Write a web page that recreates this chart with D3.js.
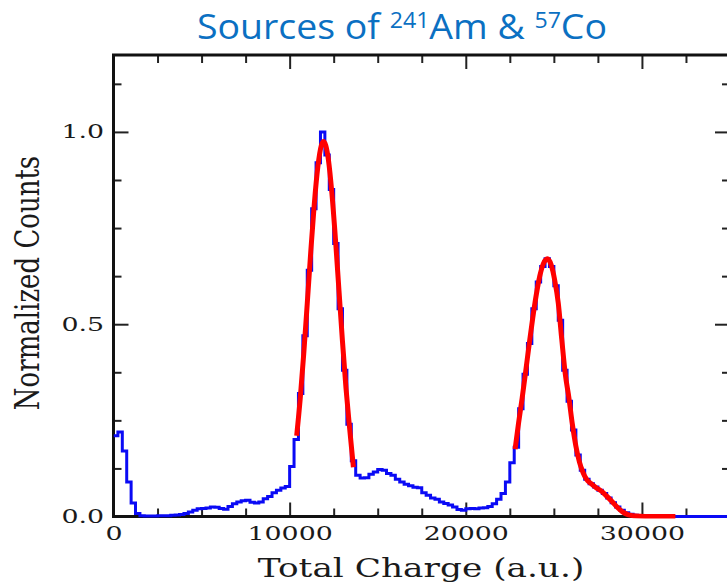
<!DOCTYPE html>
<html>
<head>
<meta charset="utf-8">
<script src="https://cdnjs.cloudflare.com/ajax/libs/d3/7.8.5/d3.min.js"></script>
<style>
body { margin: 0; background: #fff; }
svg { display: block; }
</style>
</head>
<body>
<div id="chart"></div>
<script>
// histogram of total charge, bins of 250 a.u. starting at 0
var binWidth = 250;
var counts = [
  0.21, 0.22, 0.17, 0.09, 0.035, 0.008, 0.002, 0.001,
  0.001, 0.001, 0.002, 0.002, 0.002, 0.003, 0.004, 0.005,
  0.008, 0.012, 0.016, 0.020, 0.021, 0.022, 0.025, 0.024,
  0.021, 0.019, 0.026, 0.033, 0.038, 0.041, 0.042, 0.037,
  0.035, 0.038, 0.046, 0.052, 0.062, 0.068, 0.074, 0.078,
  0.13, 0.20, 0.32, 0.47, 0.64, 0.80, 0.92, 1.0,
  0.94, 0.85, 0.71, 0.54, 0.38, 0.24, 0.145, 0.107,
  0.100, 0.101, 0.110, 0.116, 0.122, 0.120, 0.112, 0.107,
  0.097, 0.090, 0.084, 0.080, 0.076, 0.075, 0.062, 0.055,
  0.048, 0.045, 0.038, 0.034, 0.030, 0.025, 0.018, 0.016,
  0.020, 0.021, 0.020, 0.022, 0.023, 0.026, 0.033, 0.045,
  0.06, 0.09, 0.14, 0.18, 0.28, 0.37, 0.45, 0.54,
  0.61, 0.65, 0.67, 0.65, 0.60, 0.51, 0.38, 0.30,
  0.225, 0.16, 0.12, 0.097, 0.085, 0.077, 0.068, 0.060,
  0.048, 0.036, 0.025, 0.016, 0.010, 0.006, 0.003, 0.001,
  0, 0, 0, 0, 0, 0, 0, 0, 0, 0,
  0, 0, 0, 0, 0, 0, 0, 0, 0, 0
];

// fit on the 241Am peak
var fitAmX = [10400, 10600, 10800, 11000, 11200, 11400, 11600, 11800, 11925,
              12050, 12200, 12400, 12600, 12800, 13000, 13200, 13400, 13620];
var fitAmY = [0.21, 0.306, 0.423, 0.554, 0.689, 0.813, 0.909, 0.965, 0.975,
              0.965, 0.928, 0.84, 0.722, 0.588, 0.455, 0.333, 0.232, 0.128];

// fit on the 57Co peak
var fitCoX = [22800, 23000, 23200, 23400, 23600, 23800, 24000, 24200, 24400, 24630,
              24850, 25050, 25250, 25450, 25650, 25850, 26050, 26250, 26450, 26650,
              26850, 27100, 27400, 27700, 28000, 28300, 28600, 28900, 29200, 29500,
              29900, 30500, 31200, 31900];
var fitCoY = [0.175, 0.244, 0.308, 0.377, 0.448, 0.516, 0.576, 0.625, 0.657, 0.67,
              0.654, 0.614, 0.555, 0.46, 0.37, 0.31, 0.24, 0.183, 0.142, 0.115,
              0.097, 0.086, 0.075, 0.066, 0.053, 0.039, 0.024, 0.012, 0.005, 0.002,
              0.0005, 0, 0, 0];

var xMajorTicks = [0, 10000, 20000, 30000];
var xMinorTicks = [2500, 5000, 7500, 12500, 15000, 17500, 22500, 25000, 27500, 32500];
var yMajorTicks = [0, 0.5, 1.0];
var yMinorTicks = [0.125, 0.25, 0.375, 0.625, 0.75, 0.875, 1.125];

function init() {

  var width = 727;
  var height = 584;
  var left = 113.5, right = 730, top = 55, bottom = 516.5;

  var svg = d3.select("#chart")
    .append("svg")
    .attr("width", width)
    .attr("height", height);

  var xScale = d3.scaleLinear().domain([0, 35000]).range([left, right]);
  var yScale = d3.scaleLinear().domain([0, 1.2]).range([bottom, top]);

  // title
  var title = svg.append("text")
    .attr("x", 197)
    .attr("y", 38.5)
    .attr("textLength", 410)
    .attr("lengthAdjust", "spacingAndGlyphs")
    .attr("font-family", "'Open Sans', sans-serif")
    .attr("font-size", "34px")
    .attr("fill", "#0B70C2");
  title.append("tspan").text("Sources of ");
  title.append("tspan").attr("font-size", "21px").attr("dy", -11).text("241");
  title.append("tspan").attr("dy", 11).text("Am & ");
  title.append("tspan").attr("font-size", "21px").attr("dy", -11).text("57");
  title.append("tspan").attr("dy", 11).text("Co");

  function styleAxis(g, hasLabels) {
    g.select(".domain").remove();
    g.selectAll(".tick line")
      .attr("stroke", "#222")
      .attr("stroke-width", 2);
    if (hasLabels) {
      g.selectAll(".tick text")
        .attr("font-family", "'DejaVu Serif', serif")
        .attr("font-size", "18.5px")
        .attr("fill", "#1a1a1a")
        .attr("transform", "scale(1.45,1)");
    } else {
      g.selectAll(".tick text").remove();
    }
  }

  // bottom
  svg.append("g")
    .attr("transform", "translate(0," + bottom + ")")
    .call(d3.axisBottom(xScale).tickValues(xMajorTicks).tickSize(-14).tickPadding(10)
      .tickFormat(d3.format("d")))
    .call(styleAxis, true);
  svg.append("g")
    .attr("transform", "translate(0," + bottom + ")")
    .call(d3.axisBottom(xScale).tickValues(xMinorTicks).tickSize(-8))
    .call(styleAxis, false);

  // top
  svg.append("g")
    .attr("transform", "translate(0," + top + ")")
    .call(d3.axisTop(xScale).tickValues(xMajorTicks).tickSize(-14))
    .call(styleAxis, false);
  svg.append("g")
    .attr("transform", "translate(0," + top + ")")
    .call(d3.axisTop(xScale).tickValues(xMinorTicks).tickSize(-8))
    .call(styleAxis, false);

  // left
  svg.append("g")
    .attr("transform", "translate(" + left + ",0)")
    .call(d3.axisLeft(yScale).tickValues(yMajorTicks).tickSize(-15).tickPadding(6.5)
      .tickFormat(d3.format(".1f")))
    .call(styleAxis, true);
  svg.append("g")
    .attr("transform", "translate(" + left + ",0)")
    .call(d3.axisLeft(yScale).tickValues(yMinorTicks).tickSize(-8))
    .call(styleAxis, false);

  // right
  svg.append("g")
    .attr("transform", "translate(" + right + ",0)")
    .call(d3.axisRight(yScale).tickValues(yMajorTicks).tickSize(-15))
    .call(styleAxis, false);
  svg.append("g")
    .attr("transform", "translate(" + right + ",0)")
    .call(d3.axisRight(yScale).tickValues(yMinorTicks).tickSize(-8))
    .call(styleAxis, false);

  // frame
  svg.append("rect")
    .attr("x", left)
    .attr("y", top)
    .attr("width", right - left)
    .attr("height", bottom - top)
    .attr("fill", "none")
    .attr("stroke", "#111")
    .attr("stroke-width", 3);

  // axis titles
  svg.append("text")
    .attr("transform", "translate(421,577) scale(1.32,1)")
    .attr("text-anchor", "middle")
    .attr("font-family", "'DejaVu Serif', serif")
    .attr("font-size", "26px")
    .attr("fill", "#1a1a1a")
    .text("Total Charge (a.u.)");

  svg.append("text")
    .attr("transform", "translate(39,283) scale(1.32,1) rotate(-90)")
    .attr("text-anchor", "middle")
    .attr("font-family", "'DejaVu Serif', serif")
    .attr("font-size", "26px")
    .attr("fill", "#1a1a1a")
    .text("Normalized Counts");

  // data
  svg.append("clipPath")
    .attr("id", "plotclip")
    .append("rect")
    .attr("x", left)
    .attr("y", top)
    .attr("width", right - left)
    .attr("height", bottom - top + 2);

  var histPoints = counts.map(function(v, i) { return [i * binWidth, v]; });
  histPoints.push([counts.length * binWidth, counts[counts.length - 1]]);

  var stepLine = d3.line()
    .x(function(d) { return xScale(d[0]); })
    .y(function(d) { return yScale(d[1]); })
    .curve(d3.curveStepAfter);

  svg.append("path")
    .datum(histPoints)
    .attr("clip-path", "url(#plotclip)")
    .attr("d", stepLine)
    .attr("fill", "none")
    .attr("stroke", "#0A0AF5")
    .attr("stroke-width", 3);

  var fitLine = d3.line()
    .x(function(d) { return xScale(d[0]); })
    .y(function(d) { return yScale(d[1]); })
    .curve(d3.curveMonotoneX);

  [[fitAmX, fitAmY], [fitCoX, fitCoY]].forEach(function(f) {
    var pts = f[0].map(function(x, i) { return [x, f[1][i]]; });
    svg.append("path")
      .datum(pts)
      .attr("clip-path", "url(#plotclip)")
      .attr("d", fitLine)
      .attr("fill", "none")
      .attr("stroke", "#FF0000")
      .attr("stroke-width", 5)
      .attr("stroke-linejoin", "round");
  });
}
window.onload = init;
</script>
</body>
</html>
